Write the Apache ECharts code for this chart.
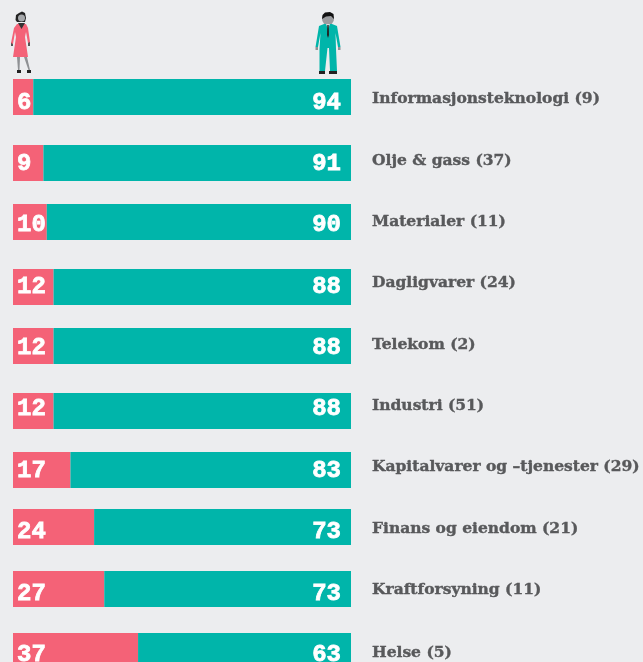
<!DOCTYPE html>
<html><head><meta charset="utf-8">
<style>html,body{margin:0;padding:0;background:#ecedef;overflow:hidden}#c{width:643px;height:662px}</style>
<script src="https://cdn.jsdelivr.net/npm/echarts@6/dist/echarts.min.js"></script></head>
<body><div id="c"></div>
<script>
const categories=['Informasjonsteknologi (9)','Olje & gass (37)','Materialer (11)','Dagligvarer (24)','Telekom (2)','Industri (51)','Kapitalvarer og –tjenester (29)','Finans og eiendom (21)','Kraftforsyning (11)','Helse (5)'];
const women=[6,9,10,12,12,12,17,24,27,37];
const menLabels=[94,91,90,88,88,88,83,73,73,63];
const rowTops=[79,145,204,269,328,393,452,509,571,633];
const catShift=[2,-2,0,-4,-1,-5,-3,2,1,2];
const numShift=[6,1,3,0,2,-2,1,5,5,4];
const PINK='#f46277',TEAL='#00b5aa',GREY='#58595b',FONT='"DejaVu Serif"',NUMFONT='"Liberation Mono"';
const grids=[],xAxes=[],yAxes=[],series=[];
categories.forEach((c,i)=>{
  const s=catShift[i];
  grids.push({left:13,width:338,top:rowTops[i],height:36,outerBoundsMode:'none'});
  xAxes.push({type:'value',gridIndex:i,min:0,max:100,show:false});
  yAxes.push({type:'category',gridIndex:i,data:[c],position:'right',axisLine:{show:false},axisTick:{show:false},
    axisLabel:{margin:21,align:'left',formatter:v=>'{a|'+v+'}',
      rich:{a:{color:GREY,fontFamily:FONT,fontWeight:'bold',fontSize:15.5,textBorderColor:GREY,textBorderWidth:0.4,padding:s>=0?[2*s,0,0,0]:[0,0,-2*s,0]}}}});
  const numLabel=(pos,txt,dx)=>({show:true,position:pos,color:'#fff',fontFamily:NUMFONT,fontWeight:'bold',fontSize:24,
    textBorderColor:'#fff',textBorderWidth:0.8,offset:[dx,numShift[i]],formatter:()=>String(txt)});
  series.push({type:'bar',name:'Kvinner',stack:'s'+i,xAxisIndex:i,yAxisIndex:i,barWidth:36,silent:true,data:[women[i]],itemStyle:{color:PINK},
    label:Object.assign(numLabel('insideLeft',women[i],0),{distance:4})});
  series.push({type:'bar',name:'Menn',stack:'s'+i,xAxisIndex:i,yAxisIndex:i,barWidth:36,silent:true,data:[100-women[i]],itemStyle:{color:TEAL},
    label:Object.assign(numLabel('insideRight',menLabels[i],0),{distance:10})});
});
const woman={type:'group',x:0,y:0,children:[
  {type:'polygon',shape:{points:[[19,13],[22,11.5],[25,13],[26,18],[25,22],[17,22],[15.5,20],[16,15]]},style:{fill:'#222'}},
  {type:'circle',shape:{cx:21.5,cy:18,r:3.5},style:{fill:'#a6a8ab'}},
  {type:'rect',shape:{x:11,y:42,width:2,height:4},style:{fill:'#555'}},
  {type:'rect',shape:{x:28,y:42,width:2,height:4},style:{fill:'#555'}},
  {type:'polygon',shape:{points:[[17,57],[20,57],[19.5,70],[18,70]]},style:{fill:'#8f9194'}},
  {type:'polygon',shape:{points:[[24,57],[27,57],[30,70],[28.5,70]]},style:{fill:'#8f9194'}},
  {type:'polygon',shape:{points:[[17,24],[26,24],[28,28],[30,42],[28,43],[26,32],[25,37],[28,57],[13,57],[16,37],[15,32],[13,44],[11,43],[14,28]]},style:{fill:PINK}},
  {type:'polygon',shape:{points:[[18,23],[25,23],[21.5,29]]},style:{fill:'#333'}},
  {type:'rect',shape:{x:17,y:70,width:4,height:3},style:{fill:'#222'}},
  {type:'rect',shape:{x:27,y:70,width:4,height:3},style:{fill:'#222'}}
]};
const man={type:'group',x:316,y:11,children:[
  {type:'circle',shape:{cx:12,cy:8,r:6},style:{fill:'#9a9c9f'}},
  {type:'polygon',shape:{points:[[6,8],[6.5,4],[9,1.5],[14,1],[17.5,3],[18,8],[15,5],[10,5.5]]},style:{fill:'#111'}},
  {type:'rect',shape:{x:-0.5,y:36,width:2.5,height:3},style:{fill:'#8f9194'}},
  {type:'rect',shape:{x:22,y:36,width:2.5,height:3},style:{fill:'#8f9194'}},
  {type:'polygon',shape:{points:[[8,13],[16,13],[21,15],[24.5,36],[22,36],[19.5,22],[20,38],[21,60],[14,60],[13,37],[11.5,37],[9,60],[3.5,60],[3.5,38],[4.5,22],[2,36],[-0.5,36],[3,15]]},style:{fill:TEAL}},
  {type:'polygon',shape:{points:[[10,13],[14,13],[12,18]]},style:{fill:'#d8dadc'}},
  {type:'polygon',shape:{points:[[11.3,14],[12.7,14],[13,24],[12,27],[11,24]]},style:{fill:'#222'}},
  {type:'rect',shape:{x:3,y:60,width:6,height:3},style:{fill:'#222'}},
  {type:'rect',shape:{x:13,y:60,width:8,height:3},style:{fill:'#222'}}
]};
const chart=echarts.init(document.getElementById('c'),null,{renderer:'canvas'});
chart.setOption({animation:false,backgroundColor:'#ecedef',grid:grids,xAxis:xAxes,yAxis:yAxes,series,graphic:[woman,man]});
</script></body></html>
